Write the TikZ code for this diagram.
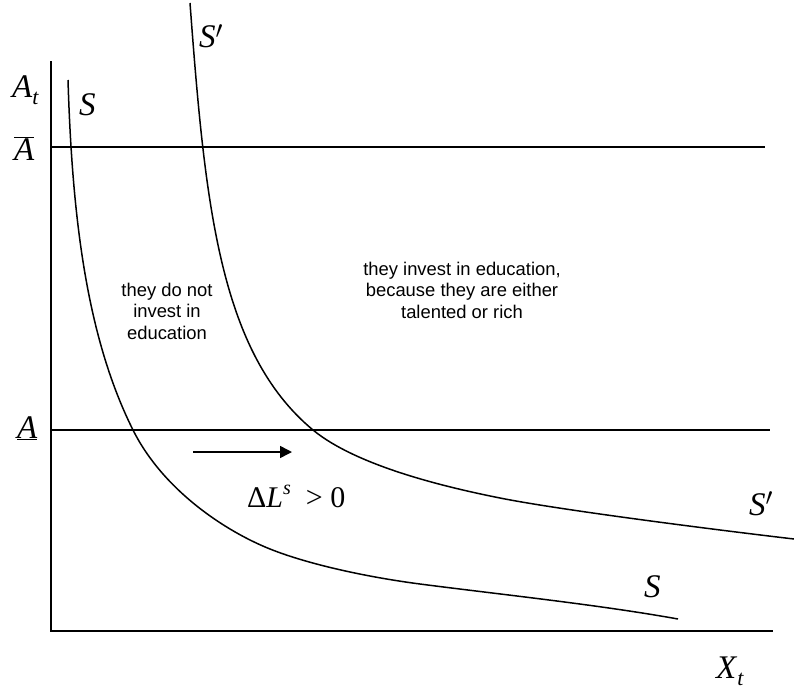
\documentclass[tikz,border=0pt]{standalone}
\usepackage{fontspec}
\setmainfont{Liberation Serif}
\newfontfamily\regionfont{Liberation Sans}
\usetikzlibrary{arrows.meta}
\tikzset{
  >={Triangle[length=12pt,width=12pt]},
  axisline/.style={line width=1.4pt},
  level/.style={line width=1.4pt},
  supply/.style={line width=1.5pt},
  shiftarrow/.style={->,line width=1.5pt},
  axlab/.style={anchor=base west,inner sep=0pt,font=\fontsize{33}{33}\selectfont},
  shiftlab/.style={anchor=base west,inner sep=0pt,font=\fontsize{30}{30}\selectfont},
  region/.style={align=center,inner sep=0pt,font=\regionfont\fontsize{18.4}{21.5}\selectfont},
}
\newcommand{\lowt}{\raisebox{-7pt}{\fontsize{22}{22}\selectfont\textit{t}}}

\begin{document}
\begin{tikzpicture}[x=1pt,y=-1pt]
  \useasboundingbox (0,0) rectangle (794,693);
  % axes and the two talent thresholds
  \coordinate (ytop) at (51,61);
  \coordinate (origin) at (51,631);
  \coordinate (xend) at (773,631);
  \coordinate (abarL) at (51,147);
  \coordinate (abarR) at (765,147);
  \coordinate (aL) at (51,430);
  \coordinate (aR) at (770,430);
  \draw[axisline] (ytop) -- (origin) -- (xend);
  \draw[level] (abarL) -- (abarR);
  \draw[level] (aL) -- (aR);
  % schedule S
  \draw[supply] (68,80) .. controls (72,210) and (85,334) .. (133,430)
    .. controls (163,490) and (225,531) .. (270,549)
    .. controls (310,565) and (370,577.5) .. (420,584)
    .. controls (500,594.4) and (598,604.6) .. (678,619);
  % schedule S' (shifted)
  \draw[supply] (190,3) .. controls (205,203) and (219,352) .. (313,430)
    .. controls (358,467) and (450,488) .. (500,498)
    .. controls (560,510) and (714,529.6) .. (794,539);
  % labels
  \node[axlab] (at) at (12,97) {\textit{A}\lowt};
  \node[axlab] (abar) at (14,160) {$\overline{\hbox{\textit{A}}}$};
  \node[axlab] (aund) at (17,438) {\underline{\textit{A}}};
  \node[axlab] (xt) at (716,678) {\textit{X}\lowt};
  \node[axlab] (stop) at (79,115) {\textit{S}};
  \node[axlab] (sptop) at (199,48) {\textit{S}$'$};
  \node[axlab] (spright) at (749,515) {\textit{S}$'$};
  \node[axlab] (sbot) at (644,597) {\textit{S}};
  \node[region] (noinv) at (167,311) {they do not\\invest in\\education};
  \node[region] (inv) at (462,290) {they invest in education,\\because they are either\\talented or rich};
  % outward shift
  \coordinate (shiftA) at (193,452);
  \coordinate (shiftB) at (292,452);
  \draw[shiftarrow] (shiftA) -- (shiftB);
  \node[shiftlab] (dl) at (247,507)
    {Δ\textit{L}\raisebox{0.42em}{\fontsize{20}{20}\selectfont\textit{s}}\,\,\,> 0};
\end{tikzpicture}
\end{document}
